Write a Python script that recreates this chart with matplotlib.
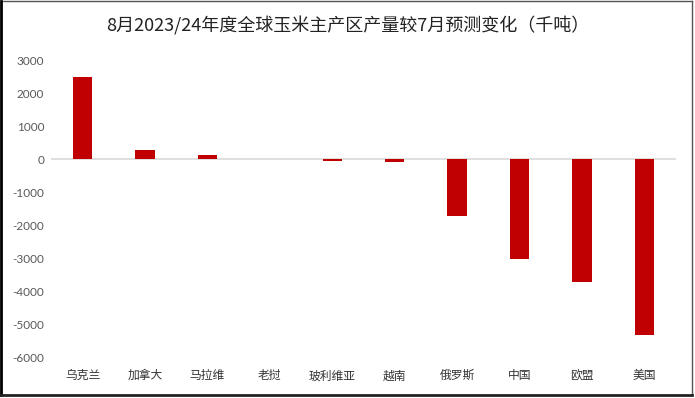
import matplotlib
matplotlib.use("Agg")
import matplotlib.pyplot as plt
from matplotlib.patches import Rectangle
from matplotlib.lines import Line2D
import matplotlib.transforms as mtransforms

plt.rcParams['font.family'] = ['Noto Sans CJK SC', 'DejaVu Sans']

categories = ['乌克兰', '加拿大', '马拉维', '老挝', '玻利维亚', '越南', '俄罗斯', '中国', '欧盟', '美国']
values = [2490, 280, 120, 0, -40, -90, -1730, -3030, -3720, -5320]
yticks = list(range(-6000, 3001, 1000))
title = '8月2023/24年度全球玉米主产区产量较7月预测变化（千吨）'

W, H = 695, 398
fig = plt.figure(figsize=(W / 100, H / 100), dpi=100)
left_px, right_px = 51.3, 675.7
top_px, bot_px = 60.3, 357.3
ax = fig.add_axes([left_px / W, 1 - bot_px / H, (right_px - left_px) / W, (bot_px - top_px) / H])
x = list(range(len(categories)))
ax.bar(x, values, width=0.31, color='#C00000', zorder=3)
ax.axhline(0, color='#D9D9D9', lw=1.2, zorder=2)
ax.set_xlim(-0.5, len(categories) - 0.5)
ax.set_ylim(-6000, 3000)
ax.set_yticks(yticks)
ax.set_yticklabels([str(v) for v in yticks], color='#595959', fontsize=8.5, family=['Lato', 'DejaVu Sans'])
ax.set_xticks([])
off = mtransforms.ScaledTranslation(0, -0.12, fig.dpi_scale_trans)
for i, c in enumerate(categories):
    ax.text(i, -6000, c, transform=ax.transData + off, ha='center', va='top', fontsize=8.5,
            color='#333333')
ax.tick_params(axis='y', length=0, pad=5)
for s in ax.spines.values():
    s.set_visible(False)

fig.text(0.5, 0.935, title, ha='center', va='center', fontsize=13, color='#222222', fontweight='medium')

# frame
fx0, fx1 = 0.8 / W, 692 / W
fy0, fy1 = 1 - 394.5 / H, 1 - 0.8 / H
fig.add_artist(Line2D([fx0, fx1], [fy1, fy1], transform=fig.transFigure, color='#555555', lw=1))
fig.add_artist(Line2D([fx1, fx1], [fy0, fy1], transform=fig.transFigure, color='#555555', lw=1))
fig.add_artist(Line2D([fx0, fx0], [fy0, fy1], transform=fig.transFigure, color='black', lw=2))
fig.add_artist(Line2D([fx0, fx1], [fy0, fy0], transform=fig.transFigure, color='#222222', lw=2))
fig.savefig('out.png', dpi=100)
